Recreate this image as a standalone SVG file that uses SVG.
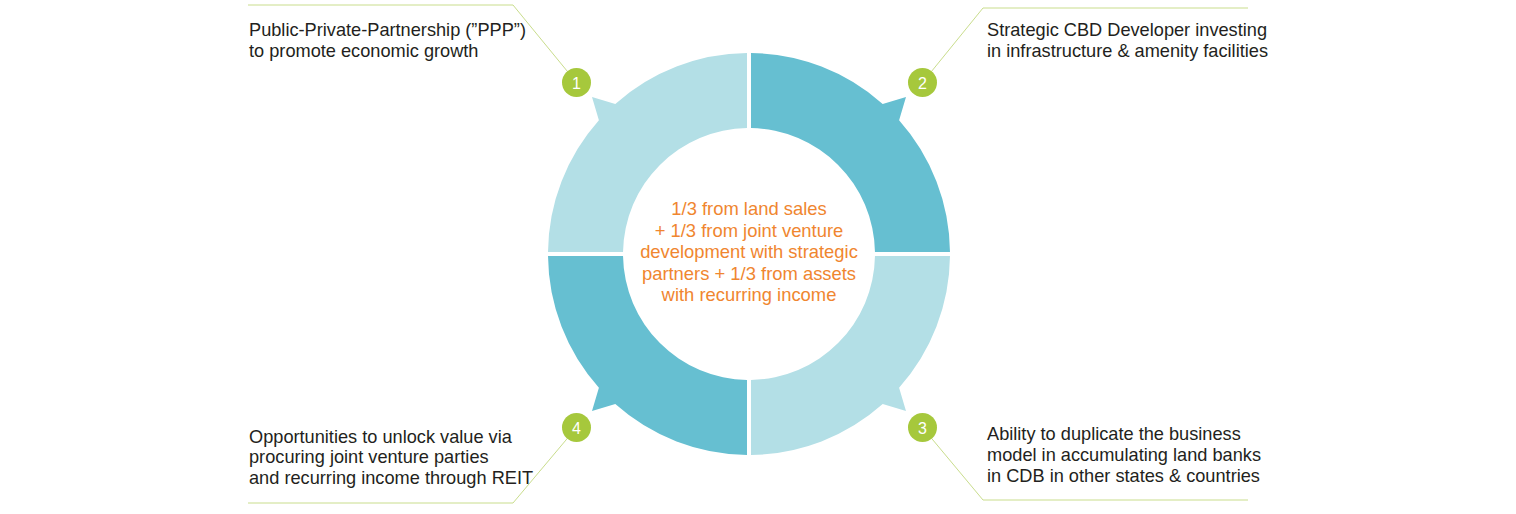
<svg xmlns="http://www.w3.org/2000/svg" width="1516" height="514" viewBox="0 0 1516 514">
<style>
.light{fill:#b3dfe6}
.dark{fill:#66bfd1}
.lead{fill:none;stroke:#c9dd8c;stroke-width:1}
.badge{fill:#a6c83c}
.num{font-family:"Liberation Sans",Arial,sans-serif;font-size:16px;fill:#ffffff;text-anchor:middle}
.lbl{font-family:"Liberation Sans",Arial,sans-serif;font-size:18.2px;fill:#231f20}
.ctr{font-family:"Liberation Sans",Arial,sans-serif;font-size:18.4px;fill:#f0862f;text-anchor:middle}
</style>
<rect width="1516" height="514" fill="#ffffff"/>
<g id="connectors">
<polyline class="lead" points="248,5 513,5 576.5,82.5"/>
<polyline class="lead" points="1248,8 983,8 922.5,82.5"/>
<polyline class="lead" points="922.5,427.5 983,500 1248,500"/>
<polyline class="lead" points="576.5,427.5 513,503 248,503"/>
</g>
<g id="ring">
<path id="q1" class="light" d="M548.01,252 A201,201 0 0 1 598.9,120.3 L592,97 L615.3,103.9 A201,201 0 0 1 747,53.01 L747,128.02 A126,126 0 0 0 623.02,252 Z"/>
<path id="q2" class="dark" d="M751,53.01 A201,201 0 0 1 882.7,103.9 L906,97 L899.1,120.3 A201,201 0 0 1 949.99,252 L874.98,252 A126,126 0 0 0 751,128.02 Z"/>
<path id="q3" class="light" d="M949.99,256 A201,201 0 0 1 899.1,387.7 L906,411 L882.7,404.1 A201,201 0 0 1 751,454.99 L751,379.98 A126,126 0 0 0 874.98,256 Z"/>
<path id="q4" class="dark" d="M747,454.99 A201,201 0 0 1 615.3,404.1 L592,411 L598.9,387.7 A201,201 0 0 1 548.01,256 L623.02,256 A126,126 0 0 0 747,379.98 Z"/>
</g>
<g id="center-text">
<text class="ctr" x="749" y="215">1/3 from land sales</text>
<text class="ctr" x="749" y="236.5">+ 1/3 from joint venture</text>
<text class="ctr" x="749" y="258">development with strategic</text>
<text class="ctr" x="749" y="279.5">partners + 1/3 from assets</text>
<text class="ctr" x="749" y="301">with recurring income</text>
</g>
<g id="node1">
<circle class="badge" cx="576.5" cy="82.5" r="14.5"/>
<text class="num" x="576.5" y="88.5">1</text>
<text class="lbl" x="249" y="36">Public-Private-Partnership (”PPP”)</text>
<text class="lbl" x="249" y="56.5">to promote economic growth</text>
</g>
<g id="node2">
<circle class="badge" cx="922.5" cy="82.5" r="14.5"/>
<text class="num" x="922.5" y="88.5">2</text>
<text class="lbl" x="987" y="36">Strategic CBD Developer investing</text>
<text class="lbl" x="987" y="56.5">in infrastructure &amp; amenity facilities</text>
</g>
<g id="node3">
<circle class="badge" cx="922.5" cy="427.5" r="14.5"/>
<text class="num" x="922.5" y="433.5">3</text>
<text class="lbl" x="987" y="440">Ability to duplicate the business</text>
<text class="lbl" x="987" y="461">model in accumulating land banks</text>
<text class="lbl" x="987" y="482">in CDB in other states &amp; countries</text>
</g>
<g id="node4">
<circle class="badge" cx="576.5" cy="427.5" r="14.5"/>
<text class="num" x="576.5" y="433.5">4</text>
<text class="lbl" x="249" y="442.5">Opportunities to unlock value via</text>
<text class="lbl" x="249" y="463">procuring joint venture parties</text>
<text class="lbl" x="249" y="484">and recurring income through REIT</text>
</g>
</svg>
